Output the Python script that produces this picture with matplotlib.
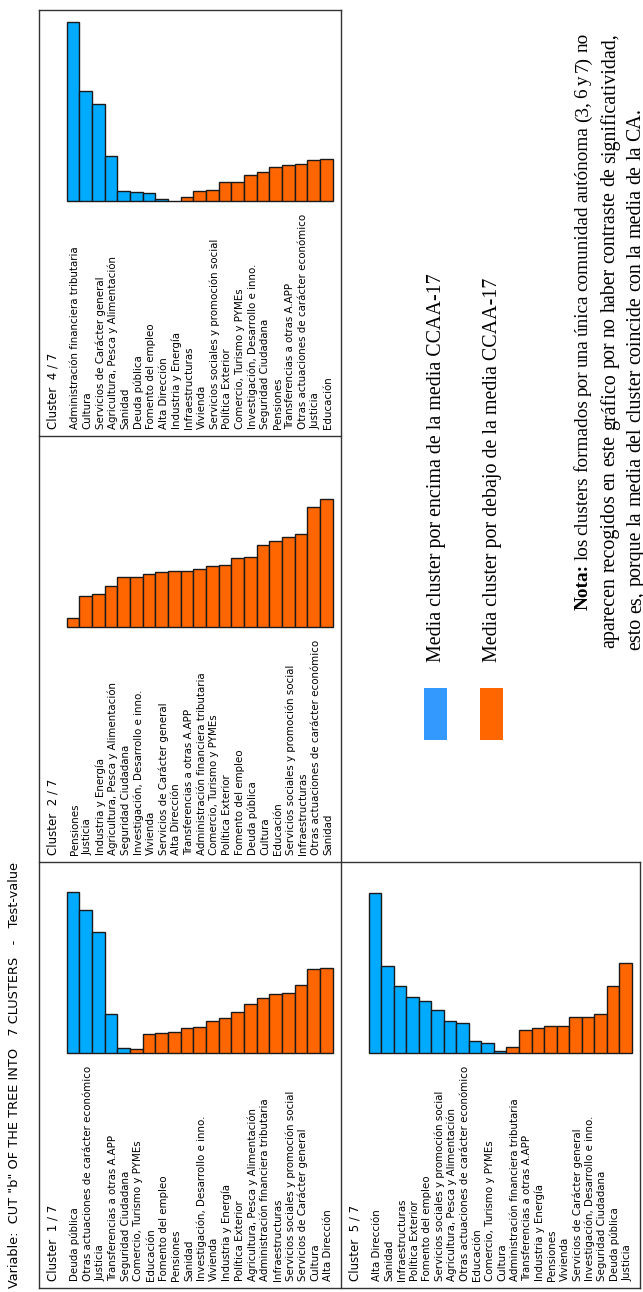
import matplotlib
matplotlib.use('Agg')
import matplotlib.pyplot as plt
from matplotlib.patches import Rectangle

W, H = 643, 1292

title = 'Variable:  CUT "b" OF THE TREE INTO   7 CLUSTERS   -   Test-value'

c1_labels = ["Deuda pública", "Otras actuaciones de carácter económico", "Justicia",
             "Transferencias a otras A.APP", "Seguridad Ciudadana", "Comercio, Turismo y PYMEs",
             "Educación", "Fomento del empleo", "Pensiones", "Sanidad",
             "Investigación, Desarrollo e inno.", "Vivienda", "Industria y Energía",
             "Política Exterior", "Agricultura, Pesca y Alimentación",
             "Administración financiera tributaria", "Infraestructuras",
             "Servicios sociales y promoción social", "Servicios de Carácter general",
             "Cultura", "Alta Dirección"]
c1_values = [16.1, 14.3, 12.1, 3.9, 0.5, -0.4, -1.9, -2.0, -2.1, -2.5, -2.6,
             -3.2, -3.5, -4.1, -4.9, -5.5, -5.9, -6.0, -6.8, -8.4, -8.5]

c2_labels = ["Pensiones", "Justicia", "Industria y Energía", "Agricultura, Pesca y Alimentación",
             "Seguridad Ciudadana", "Investigación, Desarrollo e inno.", "Vivienda",
             "Servicios de Carácter general", "Alta Dirección", "Transferencias a otras A.APP",
             "Administración financiera tributaria", "Comercio, Turismo y PYMEs",
             "Política Exterior", "Fomento del empleo", "Deuda pública", "Cultura", "Educación",
             "Servicios sociales y promoción social", "Infraestructuras",
             "Otras actuaciones de carácter económico", "Sanidad"]
c2_values = [-0.9, -3.1, -3.3, -4.1, -5.0, -5.0, -5.3, -5.5, -5.6, -5.6, -5.8,
             -6.1, -6.2, -6.9, -7.0, -8.2, -8.6, -9.0, -9.3, -12.0, -12.8]

c4_labels = ["Administración financiera tributaria", "Cultura", "Servicios de Carácter general",
             "Agricultura, Pesca y Alimentación", "Sanidad", "Deuda pública", "Fomento del empleo",
             "Alta Dirección", "Industria y Energía", "Infraestructuras", "Vivienda",
             "Servicios sociales y promoción social", "Política Exterior",
             "Comercio, Turismo y PYMEs", "Investigación, Desarrollo e inno.",
             "Seguridad Ciudadana", "Pensiones", "Transferencias a otras A.APP",
             "Otras actuaciones de carácter económico", "Justicia", "Educación"]
c4_values = [17.9, 11.0, 9.7, 4.5, 1.0, 0.9, 0.8, 0.2, 0.0, -0.4, -1.0,
             -1.1, -1.9, -1.9, -2.6, -2.9, -3.4, -3.6, -3.7, -4.1, -4.2]

c5_labels = ["Alta Dirección", "Sanidad", "Infraestructuras", "Política Exterior",
             "Fomento del empleo", "Servicios sociales y promoción social",
             "Agricultura, Pesca y Alimentación", "Otras actuaciones de carácter económico",
             "Educación", "Comercio, Turismo y PYMEs", "Cultura",
             "Administración financiera tributaria", "Transferencias a otras A.APP",
             "Industria y Energía", "Pensiones", "Vivienda", "Servicios de Carácter general",
             "Investigación, Desarrollo e inno.", "Seguridad Ciudadana", "Deuda pública", "Justicia"]
c5_values = [16.0, 8.7, 6.7, 5.6, 5.2, 4.3, 3.2, 3.0, 1.2, 1.0, 0.2, -0.6,
             -2.3, -2.5, -2.7, -2.7, -3.6, -3.6, -3.9, -6.7, -9.0]

legend_texts = ["Media cluster por encima de la media CCAA-17",
                "Media cluster por debajo de la media CCAA-17"]
nota_lines = ["Nota: los clusters formados por una única comunidad autónoma (3, 6 y 7) no",
              "aparecen recogidos en este gráfico por no haber contraste de significatividad,",
              "esto es, porque la media del cluster coincide con la media de la CA."]

BLUE = '#00AAFF'
ORANGE = '#FF6600'
SANS = ['DejaVu Sans']
SERIF = ['Liberation Serif', 'DejaVu Serif']

fig = plt.figure(figsize=(W / 100, H / 100), dpi=100)
ax = fig.add_axes([0, 0, 1, 1])
ax.set_xlim(0, W)
ax.set_ylim(H, 0)
ax.axis('off')


def panel(left, width, bottom, name, labels, values):
    bar_l = left + 27.7
    bar_w = width - 36
    base = bottom - 235
    bx = fig.add_axes([bar_l / W, 1 - base / H, bar_w / W, 200 / H])
    n = len(values)
    cols = [BLUE if v > 0 else ORANGE for v in values]
    bx.bar(range(n), [abs(v) for v in values], width=1.0, color=cols,
           edgecolor='#1a1a1a', linewidth=1.0, clip_on=False)
    bx.set_xlim(-0.5, n - 0.5)
    bx.set_ylim(0, 20)
    bx.axis('off')
    y0 = bottom - 7
    ax.text(left + 13.5, y0, name, rotation=90, ha='center', va='bottom',
            fontsize=8.5, family=SANS)
    step = bar_w / n
    for i, lab in enumerate(labels):
        ax.text(bar_l + (i + 0.5) * step + 2, y0, lab, rotation=90, ha='center',
                va='bottom', fontsize=7.4, family=SANS)


panel(39, 302, 1288, "Cluster  1 / 7", c1_labels, c1_values)
panel(39, 302, 862, "Cluster  2 / 7", c2_labels, c2_values)
panel(39, 302, 436, "Cluster  4 / 7", c4_labels, c4_values)
panel(341, 299, 1288, "Cluster  5 / 7", c5_labels, c5_values)

# frame lines
fc = '#333333'
segs = [((39, 39), (10, 1288)), ((341, 341), (10, 1288)), ((39, 341), (10, 10)),
        ((39, 640), (1288, 1288)), ((39, 341), (436, 436)), ((39, 640), (862, 862)),
        ((640, 640), (862, 1288))]
for xs, ys in segs:
    ax.plot(xs, ys, color=fc, lw=1.0, solid_capstyle='projecting')

ax.text(15, 1288, title, rotation=90, ha='center', va='bottom', fontsize=9.3, family=SANS)

# legend
ax.add_patch(Rectangle((424, 688), 23, 52, color='#3399FF', lw=0))
ax.add_patch(Rectangle((480, 688), 23, 52, color=ORANGE, lw=0))
ax.text(436, 662, legend_texts[0], rotation=90, ha='center', va='bottom', fontsize=14.4, family=SERIF)
ax.text(492, 662, legend_texts[1], rotation=90, ha='center', va='bottom', fontsize=14.4, family=SERIF)

# nota, justified word by word
renderer = fig.canvas.get_renderer()


def word_width(w, bold, fs):
    t = ax.text(0, 0, w, fontsize=fs, family=SERIF, fontweight='bold' if bold else 'normal')
    wd = t.get_window_extent(renderer).width
    t.remove()
    return wd


def put_line(x, y_start, y_end, line, justify, first_bold=False, fs=14.4):
    words = line.split()
    bolds = [first_bold and i == 0 for i in range(len(words))]
    widths = [word_width(w, b, fs) for w, b in zip(words, bolds)]
    if justify:
        gap = (y_start - y_end - sum(widths)) / (len(words) - 1)
    else:
        gap = word_width('a b', False, fs) - word_width('ab', False, fs)
    y = y_start
    for w, b, wd in zip(words, bolds, widths):
        ax.text(x, y, w, rotation=90, ha='center', va='bottom', fontsize=fs,
                family=SERIF, fontweight='bold' if b else 'normal')
        y -= wd + gap


put_line(583, 610, 33, nota_lines[0], True, first_bold=True, fs=13.9)
put_line(610, 648, 33, nota_lines[1], True)
put_line(636, 650, 0, nota_lines[2], False)

fig.savefig('out.png', dpi=100)
